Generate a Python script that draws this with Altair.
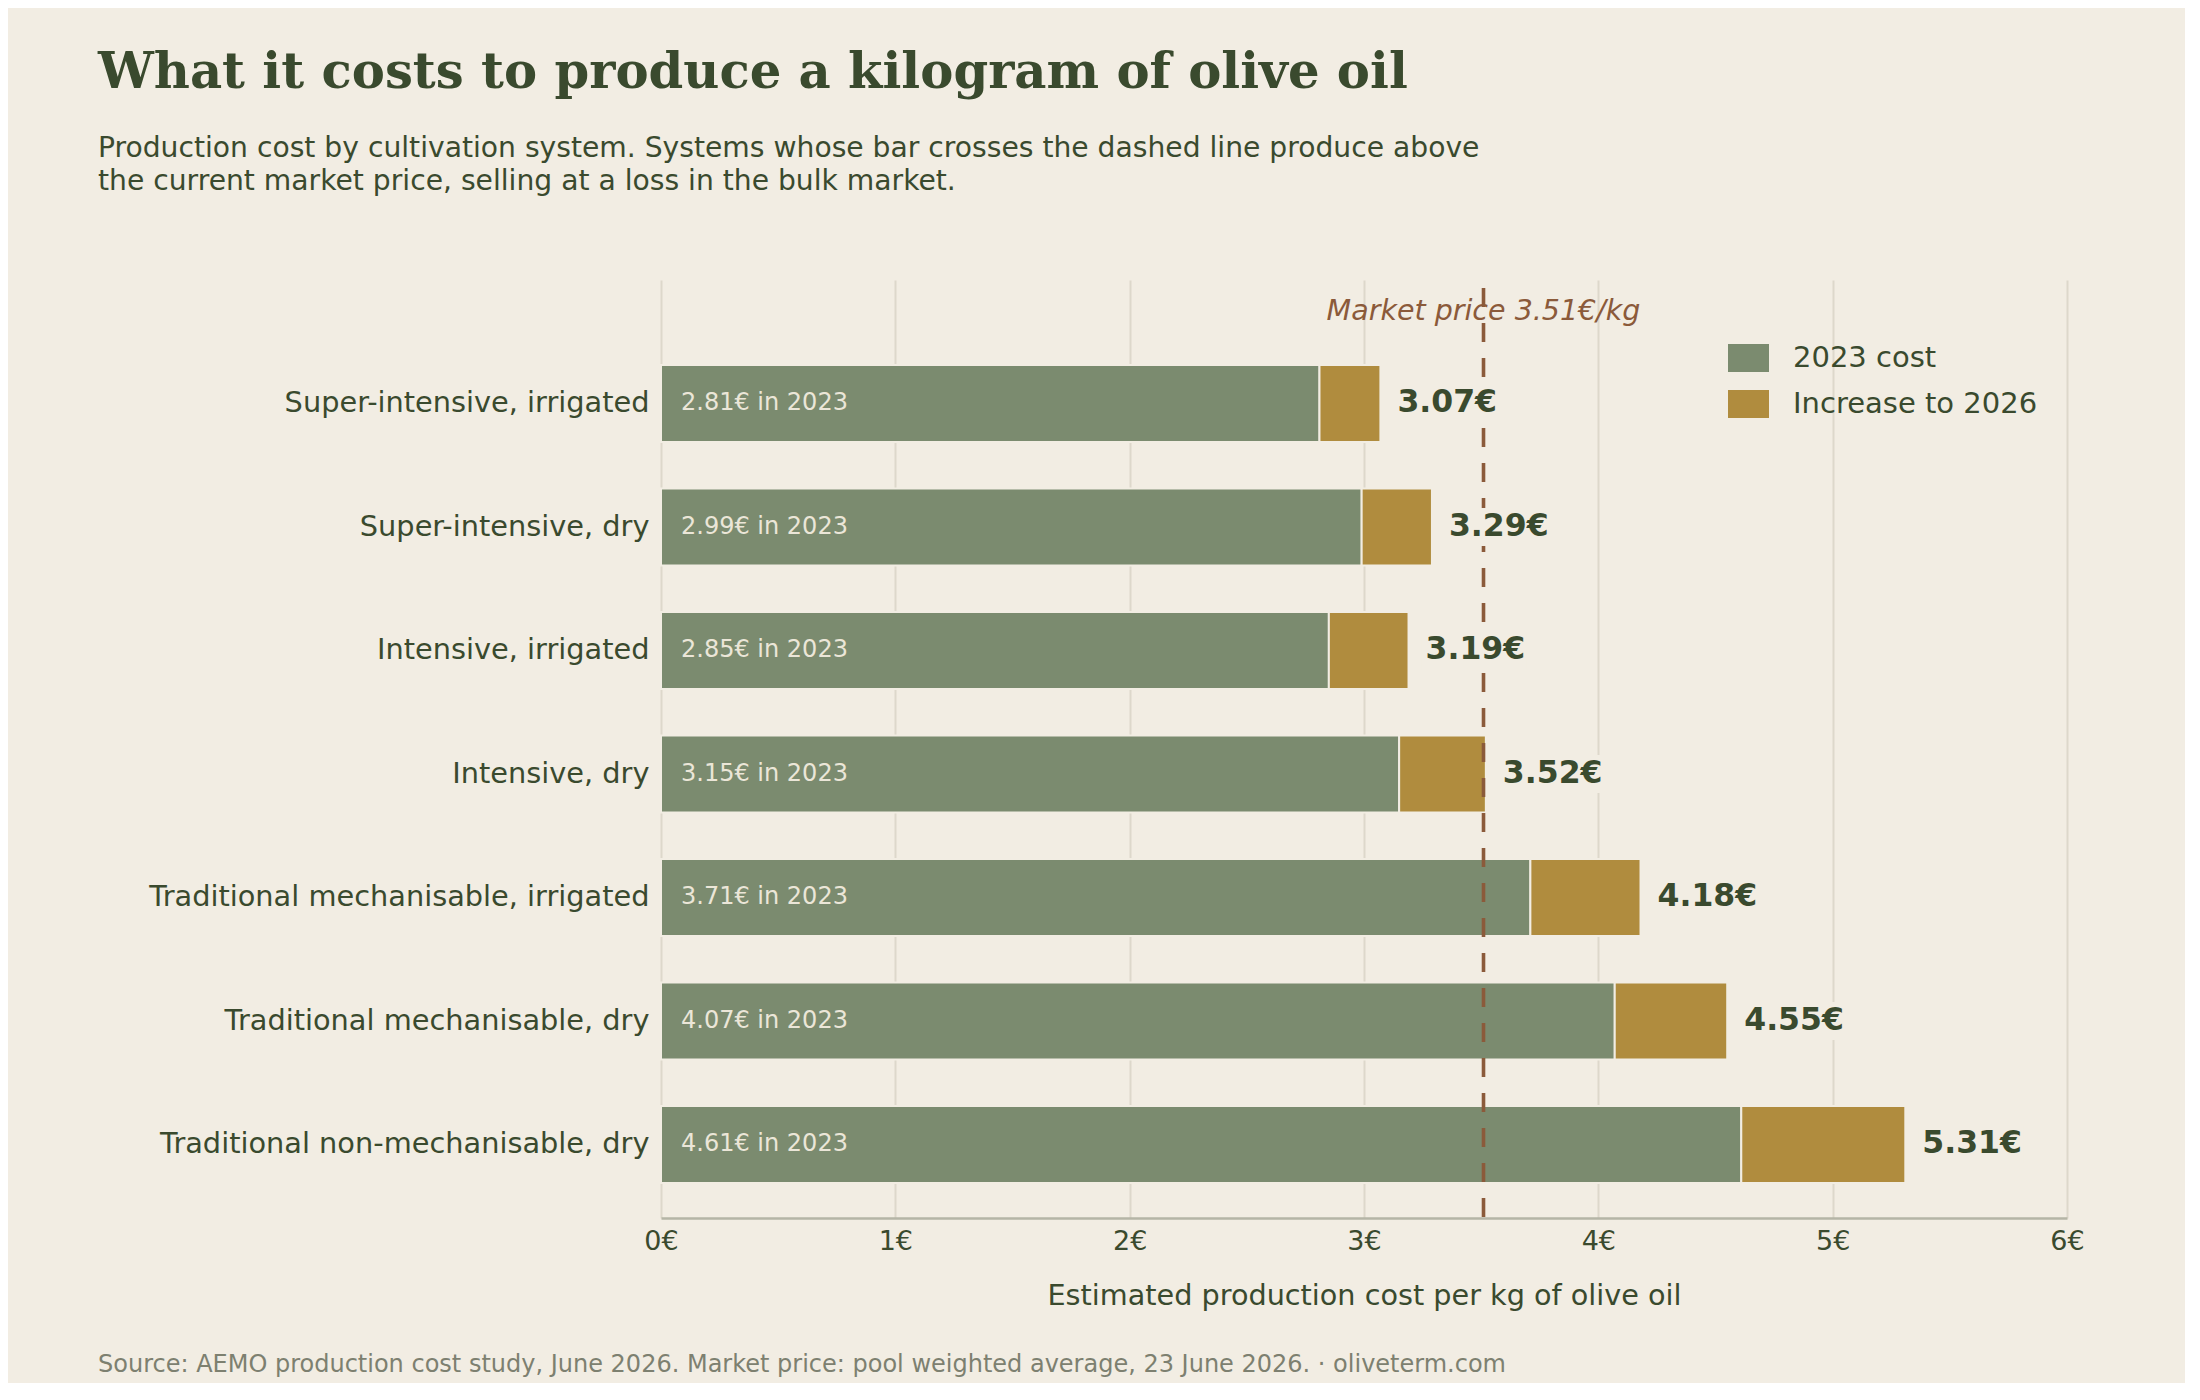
import altair as alt
import pandas as pd

# ---------------- data ----------------
systems = [
    "Super-intensive, irrigated",
    "Super-intensive, dry",
    "Intensive, irrigated",
    "Intensive, dry",
    "Traditional mechanisable, irrigated",
    "Traditional mechanisable, dry",
    "Traditional non-mechanisable, dry",
]
cost_2023 = [2.81, 2.99, 2.85, 3.15, 3.71, 4.07, 4.61]
cost_2026 = [3.07, 3.29, 3.19, 3.52, 4.18, 4.55, 5.31]
components = ["2023 cost", "Increase to 2026"]
market_price = 3.51
market_label = "Market price 3.51€/kg"
x_ticks = [0, 1, 2, 3, 4, 5, 6]

title_text = "What it costs to produce a kilogram of olive oil"
subtitle_lines = [
    "Production cost by cultivation system. Systems whose bar crosses the dashed line produce above",
    "the current market price, selling at a loss in the bulk market.",
]
x_title = "Estimated production cost per kg of olive oil"
source_text = "Source: AEMO production cost study, June 2026. Market price: pool weighted average, 23 June 2026. · oliveterm.com"

# ---------------- style ----------------
BG = "#f2ede3"
DARK = "#3a4a2e"
GREEN = "#7b8b6f"
GOLD = "#b08c3e"
BROWN = "#8b5a3a"
INNER = "#ebe6d8"
GRAY = "#7d8070"
GRID = "#ddd8cb"
FONT = "DejaVu Sans"

W, H = 1406, 938

rows = []
for s, a, b in zip(systems, cost_2023, cost_2026):
    rows.append({"system": s, "component": components[0], "value": a, "ord": 0})
    rows.append({"system": s, "component": components[1], "value": round(b - a, 2), "ord": 1})
bars_df = pd.DataFrame(rows)

labels_df = pd.DataFrame({
    "system": systems,
    "start": [0] * len(systems),
    "total": cost_2026,
    "inner": [f"{v:.2f}€ in 2023" for v in cost_2023],
    "total_txt": [f"{v:.2f}€" for v in cost_2026],
})
market_df = pd.DataFrame({"price": [market_price], "label": [market_label]})
source_df = pd.DataFrame({"t": [source_text]})

x_scale = alt.Scale(domain=[0, 6], nice=False, zero=True)
y_scale = alt.Scale(domain=systems, paddingInner=0.3765, paddingOuter=0.486, align=0.708)

y_enc = alt.Y(
    "system:N", sort=systems, scale=y_scale,
    axis=alt.Axis(title=None, domain=False, ticks=False, grid=False, labelPadding=12,
                  labelFontSize=28.8, labelColor=DARK, labelFont=FONT, labelLimit=1000),
)
y_plain = alt.Y("system:N", sort=systems, scale=y_scale)

bars = alt.Chart(bars_df).mark_bar(stroke=BG, strokeWidth=2).encode(
    x=alt.X(
        "value:Q", stack="zero", scale=x_scale,
        axis=alt.Axis(values=x_ticks, labelExpr="datum.value + '€'", title=x_title,
                      grid=True, gridColor=GRID, gridWidth=2, ticks=False, labelFlush=False,
                      domain=True, domainColor="#b5b5a6", domainWidth=2.5,
                      labelFontSize=27, labelColor=DARK, labelFont=FONT, labelPadding=10,
                      titleFontSize=28.7, titleFontWeight="normal", titleColor=DARK,
                      titleFont=FONT, titlePadding=27),
    ),
    y=y_enc,
    color=alt.Color(
        "component:N",
        scale=alt.Scale(domain=components, range=[GREEN, GOLD]),
        legend=alt.Legend(
            title=None, orient="none", legendX=1067, legendY=57.5,
            symbolType="M-1,-0.683H1V0.683H-1Z", symbolSize=1681, symbolStrokeWidth=0,
            labelFontSize=29, labelColor=DARK, labelFont=FONT, labelOffset=24,
            rowPadding=10, padding=0, labelLimit=600,
        ),
    ),
    order=alt.Order("ord:Q"),
)

rule = alt.Chart(market_df).mark_rule(color=BROWN, strokeWidth=3.6, strokeDash=[19, 16]).encode(
    x=alt.X("price:Q", scale=x_scale), y=alt.value(8), y2=alt.value(H)
)

# background box behind the total labels (hides the dashed line / gridlines)
label_box = alt.Chart(labels_df).mark_bar(
    color=BG, size=38, xOffset=13, x2Offset=118
).encode(x=alt.X("total:Q", scale=x_scale), x2="total:Q", y=y_plain)

inner = alt.Chart(labels_df).mark_text(
    align="left", baseline="middle", dx=20, fontSize=24, color=INNER, font=FONT
).encode(x=alt.X("start:Q", scale=x_scale), y=y_plain, text="inner:N")

totals = alt.Chart(labels_df).mark_text(
    align="left", baseline="middle", dx=17, fontSize=31.5, fontWeight="bold", color=DARK, font=FONT
).encode(x=alt.X("total:Q", scale=x_scale), y=y_plain, text="total_txt:N")

market_txt = alt.Chart(market_df).mark_text(
    align="center", baseline="alphabetic", fontSize=28.5, fontStyle="italic", color=BROWN, font=FONT
).encode(x=alt.X("price:Q", scale=x_scale), y=alt.value(40), text="label:N")

source = alt.Chart(source_df).mark_text(
    align="left", baseline="alphabetic", fontSize=24, color=GRAY, font=FONT
).encode(x=alt.value(-563), y=alt.value(1092), text="t:N")

chart = alt.layer(bars, rule, label_box, inner, totals, market_txt, source).properties(
    width=W, height=H,
    padding={"left": 90, "top": 40, "right": 100, "bottom": 6},
    background=BG,
    title=alt.Title(
        text=title_text, subtitle=subtitle_lines, anchor="start", frame="group", dx=-563,
        font="DejaVu Serif", fontSize=49.7, fontWeight="bold", color=DARK,
        subtitleFont=FONT, subtitleFontSize=28.2, subtitleColor=DARK, subtitleLineHeight=33,
        subtitlePadding=36, offset=84,
    ),
).configure_view(stroke=None)

chart.save("out.html", embed_options={"renderer": "svg", "actions": False})
